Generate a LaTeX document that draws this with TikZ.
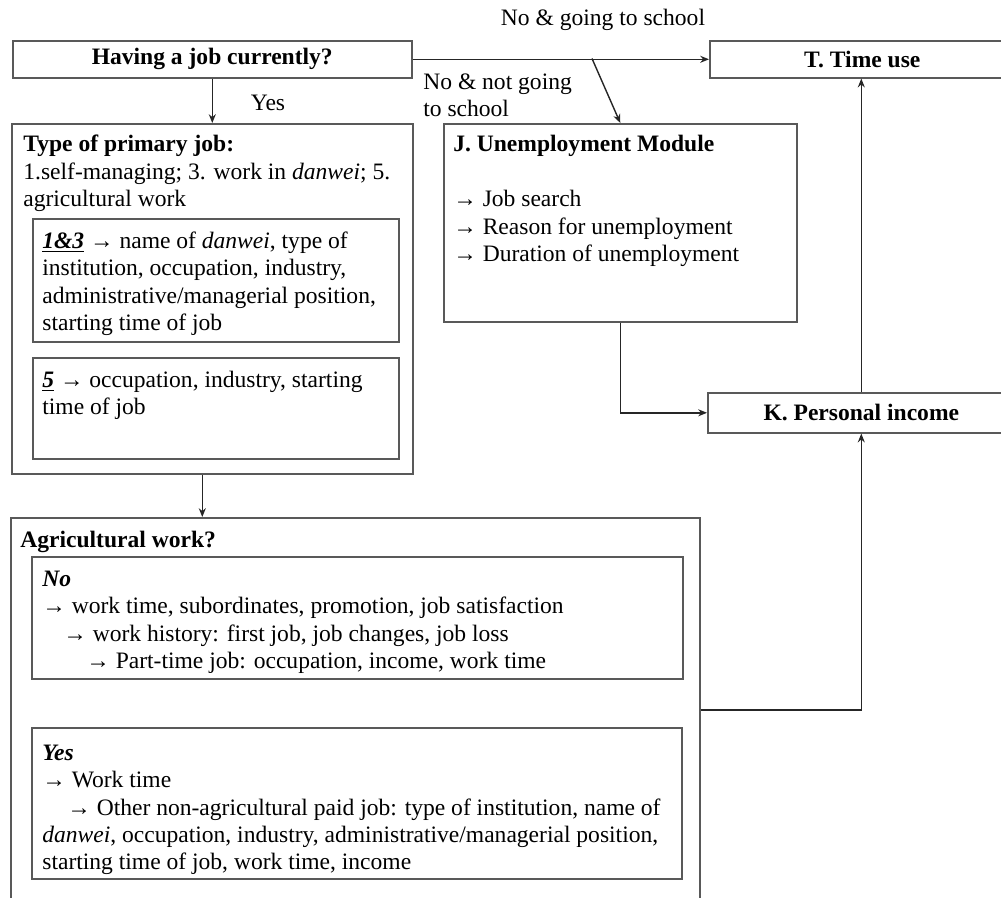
\documentclass[tikz,border=0pt]{standalone}
\usepackage{fontspec}
\setmainfont{Liberation Serif}
\usepackage{tikz}
\usetikzlibrary{arrows.meta,positioning}

\begin{document}
\begin{tikzpicture}[
  font=\fontsize{13.4}{15.6}\selectfont,
  box/.style={draw=black!65, line width=0.9pt, anchor=north west, inner sep=0pt},
  txt/.style={anchor=north west, inner sep=0pt, align=left},
  lbl/.style={inner sep=0pt, align=left},
  arrow/.style={-{Stealth[length=5pt,width=4pt]}, line width=0.8pt, black!85},
  link/.style={line width=0.8pt, black!85},
]
\useasboundingbox (0,0) rectangle (20.02,-17.94);
\clip (0,0) rectangle (20.02,-17.94);

% top row
\node[box, minimum width=7.98cm, minimum height=0.74cm] (having) at (0.24,-0.80) {\textbf{Having a job currently?}};
\node[box, minimum width=6.10cm, minimum height=0.74cm] (timeuse) at (14.18,-0.80) {\textbf{T. Time use}};

% employed branch
\node[box, minimum width=8.02cm, minimum height=7.00cm] (jobtype) at (0.22,-2.46) {};
\node[txt] (jobtypetxt) at (0.46,-2.70) {\textbf{Type of primary job:}\\
  1.self-managing; 3. work in \textit{danwei}; 5.\\
  agricultural work};
\node[box, minimum width=7.32cm, minimum height=2.46cm] (danwei) at (0.64,-4.36) {};
\node[txt] (danweitxt) at (0.84,-4.63) {\underline{\textbf{\textit{1\&3}}} → name of \textit{danwei}, type of\\
  institution, occupation, industry,\\
  administrative/managerial position,\\
  starting time of job};
\node[box, minimum width=7.32cm, minimum height=2.02cm] (farm) at (0.64,-7.14) {};
\node[txt] (farmtxt) at (0.84,-7.41) {\underline{\textbf{\textit{5}}} → occupation, industry, starting\\
  time of job};

% unemployment and income
\node[box, minimum width=7.06cm, minimum height=3.96cm] (unemp) at (8.86,-2.46) {};
\node[txt] (unemptxt) at (9.06,-2.70) {\textbf{J. Unemployment Module}\\[0.55cm]
  → Job search\\
  → Reason for unemployment\\
  → Duration of unemployment};
\node[box, minimum width=6.14cm, minimum height=0.80cm] (income) at (14.14,-7.84) {\textbf{K. Personal income}};

% agricultural work
\node[box, minimum width=13.78cm, minimum height=8.40cm] (agri) at (0.20,-10.34) {};
\node[txt] (agritxt) at (0.40,-10.62) {\textbf{Agricultural work?}};
\node[box, minimum width=13.02cm, minimum height=2.44cm] (agrino) at (0.62,-11.12) {};
\node[txt] (agrinotxt) at (0.84,-11.41) {\textbf{\textit{No}}\\
  → work time, subordinates, promotion, job satisfaction\\
  \hspace*{0.42cm}→ work history: first job, job changes, job loss\\
  \hspace*{0.88cm}→ Part-time job: occupation, income, work time};
\node[box, minimum width=13.00cm, minimum height=3.02cm] (agriyes) at (0.62,-14.54) {};
\node[txt] (agriyestxt) at (0.84,-14.89) {\textbf{\textit{Yes}}\\
  → Work time\\
  \hspace*{0.50cm}→ Other non-agricultural paid job: type of institution, name of\\
  \textit{danwei}, occupation, industry, administrative/managerial position,\\
  starting time of job, work time, income};

% connectors
\coordinate (split) at (11.84,-1.17);
\draw[arrow] (having.east) -- (timeuse.west);
\draw[arrow] (split) -- (unemp.north);
\draw[arrow] (having.south) -- (jobtype.north);
\draw[arrow] ([xshift=-0.2cm]jobtype.south) -- ([xshift=-0.2cm]jobtype.south |- agri.north);
\draw[arrow] (unemp.south) |- (income.west);
\draw[arrow] ([yshift=-3.86cm]agri.north east) -| (income.south);
\draw[arrow] (income.north) -- (income.north |- timeuse.south);

% branch labels
\node[lbl] (goschool) at (12.06,-0.40) {No \& going to school};
\node[lbl, anchor=north west] (noschool) at (8.46,-1.46) {No \& not going\\to school};
\node[lbl] (yes) at (5.36,-2.06) {Yes};
\end{tikzpicture}
\end{document}
